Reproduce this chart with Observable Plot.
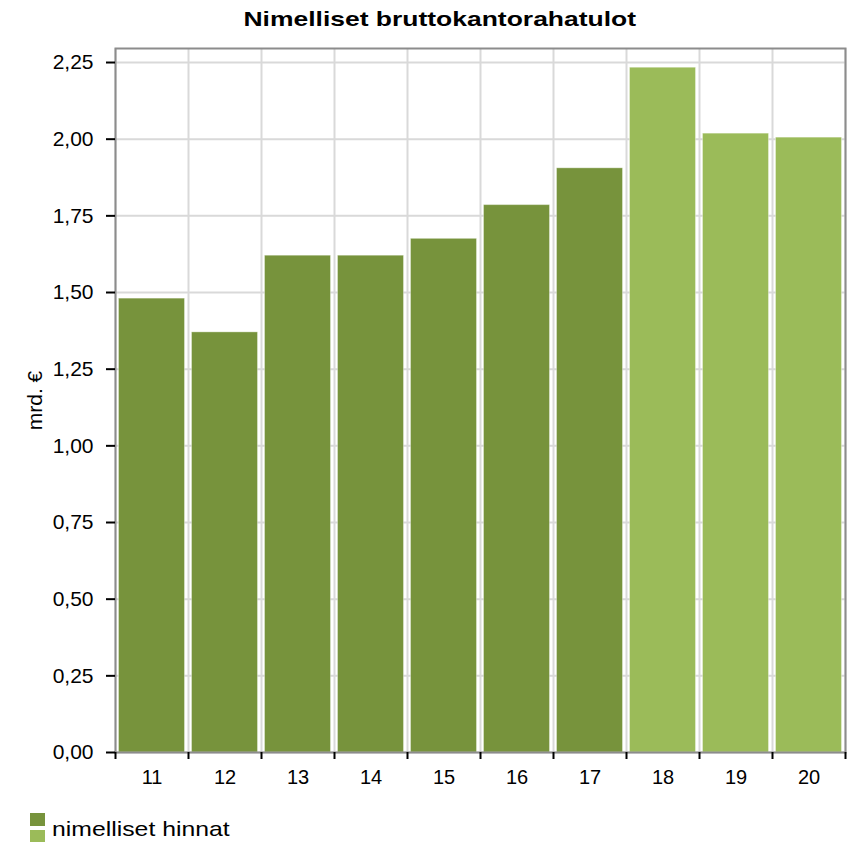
<!DOCTYPE html>
<html>
<head>
<meta charset="utf-8">
<script src="https://cdn.jsdelivr.net/npm/d3@7"></script>
<script src="https://cdn.jsdelivr.net/npm/@observablehq/plot@0.6"></script>
<style>
  html, body { margin: 0; padding: 0; background: #fff; }
  body { width: 850px; height: 842px; position: relative; overflow: hidden; font-family: "Liberation Sans", Arial, sans-serif; }
  #title { position: absolute; left: 0; top: 0; width: 880px; height: 36px; line-height: 37px; text-align: center; font-weight: bold; font-size: 21px; color: #000; }
  #title span { display: inline-block; transform: scaleX(1.26); transform-origin: center; }
  #chart { position: absolute; left: 0; top: 36px; }
  #legend { position: absolute; left: 30px; top: 813px; }
  .sw { position: absolute; left: 0; width: 15px; height: 13px; }
  #ltext { position: absolute; left: 22px; top: 4px; font-size: 21px; white-space: nowrap; color: #000; transform: scaleX(1.18); transform-origin: left center; }
</style>
</head>
<body>
<div id="title"><span>Nimelliset bruttokantorahatulot</span></div>
<div id="chart"></div>
<div id="legend">
  <div class="sw" style="top:0;background:#77933C"></div>
  <div class="sw" style="top:17px;background:#9BBB59"></div>
  <div id="ltext">nimelliset hinnat</div>
</div>
<script>
const years = [11, 12, 13, 14, 15, 16, 17, 18, 19, 20];
const values = [1.48, 1.37, 1.62, 1.62, 1.675, 1.785, 1.905, 2.233, 2.018, 2.005];
const kinds = ["toteutunut", "toteutunut", "toteutunut", "toteutunut", "toteutunut", "toteutunut", "toteutunut", "ennuste", "ennuste", "ennuste"];
const yTicks = [0, 0.25, 0.5, 0.75, 1, 1.25, 1.5, 1.75, 2, 2.25];

const data = years.map((y, i) => ({year: y, value: values[i], kind: kinds[i]}));
const edges = d3.range(years.length + 1).map(i => years[0] - 0.5 + i);
const fmt = v => d3.format(".2f")(v).replace(".", ",");

const chart = Plot.plot({
  width: 850,
  height: 760,
  marginLeft: 115,
  marginRight: 5,
  marginTop: 12,
  marginBottom: 44,
  style: {fontFamily: "'Liberation Sans', Arial, sans-serif", fontSize: "20px", color: "#000", background: "#fff"},
  x: {type: "linear", domain: [years[0] - 0.5, years[years.length - 1] + 0.5]},
  y: {domain: [0, 2.2957]},
  color: {domain: ["toteutunut", "ennuste"], range: ["#77933C", "#9BBB59"]},
  marks: [
    Plot.ruleX(edges, {stroke: "#d9d9d9", strokeWidth: 2}),
    Plot.ruleY(yTicks, {stroke: "#d9d9d9", strokeWidth: 2}),
    Plot.rectY(data, {x1: d => d.year - 0.5, x2: d => d.year + 0.5, y: "value", fill: "kind", insetLeft: 3.5, insetRight: 3.5, stroke: "#ffffff", strokeOpacity: 0.35, strokeWidth: 1}),
    Plot.frame({stroke: "#8c8c8c", strokeWidth: 2}),
    Plot.axisY({ticks: yTicks, tickFormat: fmt, tickSize: 9, tickPadding: 13, stroke: "#000", strokeWidth: 2, label: null, fontSize: 21}),
    Plot.axisY({ticks: [], label: "mrd. €", labelAnchor: "center", labelArrow: "none", labelOffset: 88, fontSize: 21}),
    Plot.axisX({ticks: edges, tickFormat: () => "", tickSize: 7, stroke: "#000", strokeWidth: 2}),
    Plot.axisX({ticks: years, tickFormat: d => String(d), tickSize: 0, tickPadding: 17, label: null, fontSize: 20})
  ]
});
document.getElementById("chart").appendChild(chart);
</script>
</body>
</html>
